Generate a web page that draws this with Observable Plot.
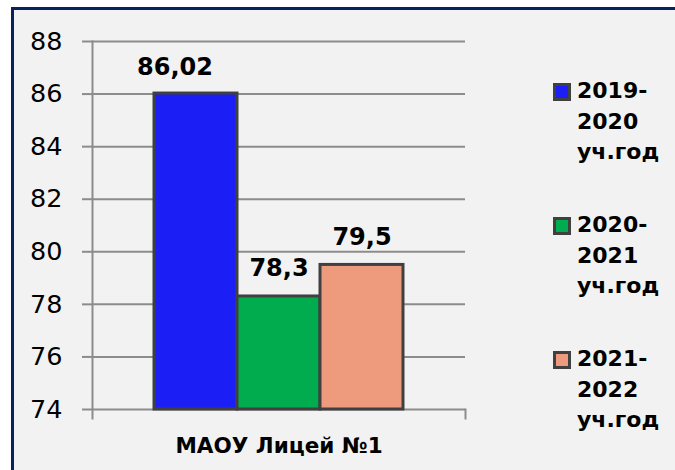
<!DOCTYPE html>
<html>
<head>
<meta charset="utf-8">
<script src="https://cdn.jsdelivr.net/npm/d3@7"></script>
<script src="https://cdn.jsdelivr.net/npm/@observablehq/plot@0.6"></script>
<style>
  html, body { margin: 0; padding: 0; background: #ffffff; width: 675px; height: 470px; overflow: hidden; }
  #panel { position: absolute; left: 11px; top: 7px; width: 700px; height: 500px; background: #f2f2f2;
           border-left: 3px solid #0b215e; border-top: 3px solid #0b215e; }
  #chart { position: absolute; left: 0; top: 0; }
  .sw { position: absolute; left: 553px; width: 18px; height: 18px; box-sizing: border-box; border: 3px solid #404040; }
  .lt { position: absolute; left: 577px; font-family: "DejaVu Sans", sans-serif; font-weight: bold;
        font-size: 22px; line-height: 30.5px; color: #000; white-space: pre; }
</style>
</head>
<body>
<div id="panel"></div>
<div id="chart"></div>
<div id="legend"></div>
<script>
const categories = ["МАОУ Лицей №1"];
const years = ["2019-2020 уч.год", "2020-2021 уч.год", "2021-2022 уч.год"];
const values = [86.02, 78.3, 79.5];
const colors = ["#1b1ff5", "#00ac4e", "#ee9a7d"];
const yTicks = [74, 76, 78, 80, 82, 84, 86, 88];

const data = years.map((y, i) => ({category: categories[0], year: y, value: values[i]}));
const fmt = v => String(v).replace(".", ",");

const W = 675, H = 470, mL = 92, mR = 210, mT = 41, mB = 61;
const grid = "#8c8c8c";

const plot = Plot.plot({
  width: W, height: H,
  marginLeft: mL, marginRight: mR, marginTop: mT, marginBottom: mB,
  style: {fontFamily: "DejaVu Sans, sans-serif", background: "transparent", overflow: "visible", color: "#000"},
  x: {type: "band", domain: years, paddingInner: 0, paddingOuter: 0.738, axis: null},
  y: {domain: [yTicks[0], yTicks[yTicks.length - 1]], axis: null, label: null},
  color: {domain: years, range: colors},
  marks: [
    Plot.gridY(yTicks, {stroke: grid, strokeOpacity: 1, strokeWidth: 2}),
    Plot.axisY(yTicks, {tickSize: 10, tickPadding: 20, stroke: grid, strokeWidth: 2, fill: "#000",
                        fontSize: 25.5, tickFormat: d => String(d), label: null}),
    Plot.frame({anchor: "left", stroke: grid, strokeWidth: 2, insetBottom: -9}),
    Plot.frame({anchor: "right", stroke: grid, strokeWidth: 2, insetTop: H - mT - mB, insetBottom: -9}),
    Plot.barY(data, {x: "year", y1: () => yTicks[0], y2: "value", fill: "year",
                     stroke: "#404040", strokeWidth: 3}),
    Plot.text(data, {filter: (d, i) => i === 0, x: "year", y: "value", text: d => fmt(d.value),
                     lineAnchor: "bottom", dy: -19, dx: -21, fontSize: 24, fontWeight: "bold", fill: "#000"}),
    Plot.text(data, {filter: (d, i) => i > 0, x: "year", y: "value", text: d => fmt(d.value),
                     lineAnchor: "bottom", dy: -20, fontSize: 24, fontWeight: "bold", fill: "#000"}),
    Plot.text(categories, {frameAnchor: "bottom", text: d => d, lineAnchor: "bottom", dy: 43,
                           fontSize: 21.5, fontWeight: "bold", fill: "#000"})
  ]
});
document.getElementById("chart").appendChild(plot);

// legend
const legend = document.getElementById("legend");
years.forEach((y, i) => {
  const top = 83 + 134 * i;
  const sw = document.createElement("div");
  sw.className = "sw";
  sw.style.top = top + "px";
  sw.style.background = colors[i];
  legend.appendChild(sw);
  const t = document.createElement("div");
  t.className = "lt";
  t.style.top = (top - 7) + "px";
  const [span, word] = y.split(" ");
  const [a, b] = span.split("-");
  t.textContent = a + "-\n" + b + "\n" + word;
  legend.appendChild(t);
});
</script>
</body>
</html>
